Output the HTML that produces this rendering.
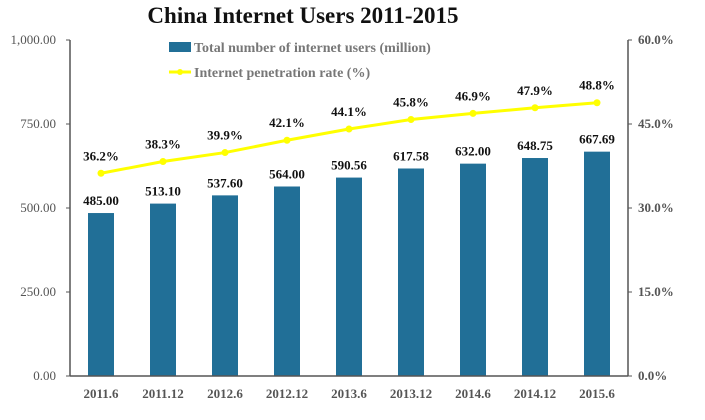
<!DOCTYPE html>
<html><head><meta charset="utf-8"><style>
body{margin:0;background:#fff;width:705px;height:415px;overflow:hidden}
svg text{font-family:"Liberation Serif",serif}
</style></head><body>
<svg width="705" height="415">
<text x="303" y="23" text-anchor="middle" font-size="23" font-weight="bold" fill="#111">China Internet Users 2011-2015</text>
<g>
<rect x="169" y="42" width="22" height="10" fill="#216f97"/>
<text x="194" y="52" font-size="14" font-weight="bold" fill="#777">Total number of internet users (million)</text>
<line x1="169" y1="72" x2="191" y2="72" stroke="#ffff00" stroke-width="3"/>
<circle cx="180" cy="72" r="3" fill="#ffff00"/>
<text x="194" y="77" font-size="14" font-weight="bold" fill="#777">Internet penetration rate (%)</text>
</g>
<g id="plot"></g>
</svg>
<script>
const categories=["2011.6","2011.12","2012.6","2012.12","2013.6","2013.12","2014.6","2014.12","2015.6"];
const users=[485.00,513.10,537.60,564.00,590.56,617.58,632.00,648.75,667.69];
const rates=[36.2,38.3,39.9,42.1,44.1,45.8,46.9,47.9,48.8];
const leftTicks=[0,250,500,750,1000];
const rightTicks=[0,15,30,45,60];
const X0=70,X1=628,Y0=376,Y1=40;
const step=(X1-X0)/categories.length;
const xc=i=>X0+step*(i+0.5);
const yL=v=>Y0-(v/1000)*(Y0-Y1);
const yR=v=>Y0-(v/60)*(Y0-Y1);
const g=document.getElementById('plot');
const NS="http://www.w3.org/2000/svg";
function mk(t,a,txt){const e=document.createElementNS(NS,t);for(const k in a)e.setAttribute(k,a[k]);if(txt!=null)e.textContent=txt;g.appendChild(e);return e;}
users.forEach((v,i)=>{
const r=mk('rect',{x:xc(i)-13,y:yL(v),width:26,height:Y0-yL(v),fill:'#216f97'});


const t=mk('text',{x:xc(i),y:yL(v)-8,'text-anchor':'middle','font-size':13,'font-weight':'bold',fill:'#111'},v.toFixed(2));


const c=mk('text',{x:xc(i),y:398,'text-anchor':'middle','font-size':13,'font-weight':'bold',fill:'#555'},categories[i]);


});
const pl=mk('polyline',{points:rates.map((v,i)=>xc(i)+','+yR(v)).join(' '),fill:'none',stroke:'#ffff00','stroke-width':3});


rates.forEach((v,i)=>{
const p=mk('circle',{cx:xc(i),cy:yR(v),r:3.5,fill:'#ffff00'});


const t=mk('text',{x:xc(i),y:yR(v)-13,'text-anchor':'middle','font-size':13,'font-weight':'bold',fill:'#111'},v.toFixed(1)+'%');


});
const la=mk('line',{x1:X0,y1:Y1,x2:X0,y2:Y0,stroke:'#555','stroke-width':1.5});


const ra=mk('line',{x1:X1,y1:Y1,x2:X1,y2:Y0,stroke:'#555','stroke-width':1.5});


const xa=mk('line',{x1:X0,y1:Y0,x2:X1,y2:Y0,stroke:'#555','stroke-width':1.5});


leftTicks.forEach(v=>{
mk('line',{x1:X0-4,y1:yL(v),x2:X0,y2:yL(v),stroke:'#555'});
const t=mk('text',{x:X0-14,y:yL(v)+4,'text-anchor':'end','font-size':13,fill:'#555'},v.toLocaleString('en-US',{minimumFractionDigits:2}));


});
rightTicks.forEach(v=>{
mk('line',{x1:X1,y1:yR(v),x2:X1+4,y2:yR(v),stroke:'#555'});
const t=mk('text',{x:X1+10,y:yR(v)+4,'font-size':13,'font-weight':'bold',fill:'#555'},v.toFixed(1)+'%');


});
</script>
</body></html>
